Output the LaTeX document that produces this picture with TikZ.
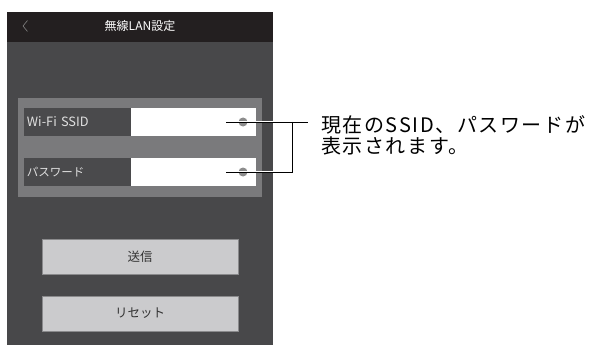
\documentclass[tikz,border=0pt]{standalone}
\usepackage{fontspec}
\setmainfont{Noto Sans CJK JP}
\usetikzlibrary{positioning}

\definecolor{hdrbg}{HTML}{231F20}
\definecolor{scrbg}{HTML}{48484A}
\definecolor{panelbg}{HTML}{7A7A7C}
\definecolor{lblbg}{HTML}{4A4A4C}
\definecolor{btnbg}{HTML}{CBCBCD}
\definecolor{btnline}{HTML}{8A8A8C}

\begin{document}
\begin{tikzpicture}[x=1pt, y=-1pt,
    box/.style={inner sep=0pt, outer sep=0pt, anchor=north west},
    lbl/.style={box, fill=lblbg, minimum width=107pt, minimum height=28pt, text=white!88!black,
      font=\fontsize{11.5}{12}\selectfont, text width=101pt, align=left},
    fld/.style={inner sep=0pt, outer sep=0pt, fill=white, minimum width=125pt, minimum height=28pt},
    btn/.style={draw=btnline, line width=0.6pt, fill=btnbg, minimum width=196pt, minimum height=35pt,
      inner sep=0pt, font=\fontsize{12.5}{13}\selectfont, text=black!80},
    knob/.style={circle, fill=black!45, inner sep=0pt, minimum size=9pt},
    callout/.style={line width=0.8pt, preaction={draw=white, line width=2.2pt}}
  ]
\useasboundingbox (0,0) rectangle (595,345);

% Screen and title bar
\node[box, fill=scrbg, minimum width=266pt, minimum height=333pt] (scr) at (7,12) {};
\node[box, fill=hdrbg, minimum width=266pt, minimum height=30pt] (hdr) at (7,12) {};
\node[text=white, font=\fontsize{12}{13}\selectfont] (title) at (140,26) {無線LAN設定};
\draw[gray, line width=0.6pt] (27.5,20.5) -- (23,26) -- (27.5,31.5);

% Settings panel
\node[box, fill=panelbg, minimum width=244pt, minimum height=99pt] (panel) at (18,98) {};
\node[lbl, font=\fontsize{12.8}{13}\selectfont] (ssid) at (24,108) {Wi-Fi SSID};
\node[fld, right=0pt of ssid] (ssidf) {};
\node[lbl] (pw) at (24,158) {パスワード};
\node[fld, right=0pt of pw] (pwf) {};
\node[knob] (k1) at (243,122) {};
\node[knob] (k2) at (243,172) {};

% Buttons
\node[btn] (send) at (140,257) {送信};
\node[btn, below=21pt of send] (reset) {リセット};

% Callout
\coordinate (c1) at (226,122);
\coordinate (c2) at (226,172);
\coordinate (joint) at (292,122);
\coordinate (tip) at (308,122);
\draw[callout] (c1) -- (tip) (joint) |- (c2);
\node[anchor=west, align=left, inner sep=0pt,
  font=\fontsize{20}{21}\selectfont\addfontfeature{LetterSpace=8}] (note) at (321,135)
  {現在のSSID、パスワードが\\表示されます。};

\end{tikzpicture}
\end{document}
